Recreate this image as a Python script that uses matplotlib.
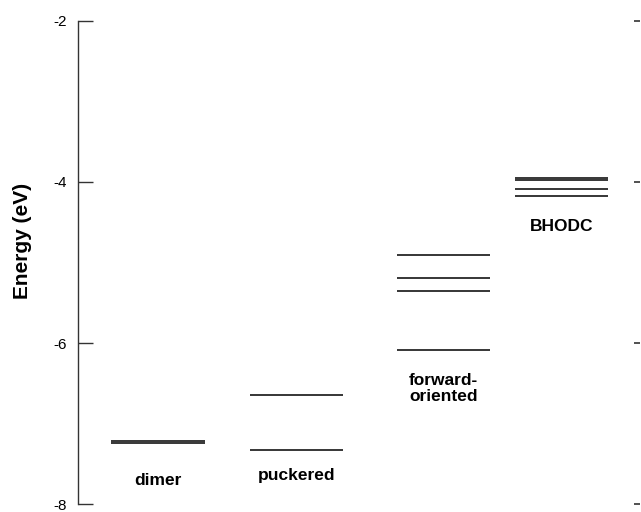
import matplotlib
matplotlib.use("Agg")
import matplotlib.pyplot as plt

plt.rcParams['font.family'] = ['Liberation Sans', 'DejaVu Sans']

# energy levels (eV) for each structure
dimer = [-7.22, -7.24]
puckered = [-6.65, -7.33]
forward = [-4.91, -5.19, -5.36, -6.09]
bhodc = [-3.95, -3.98, -4.09, -4.17]

names = ['dimer', 'puckered', 'forward-\noriented', 'BHODC']
centers = [1.71, 4.67, 7.81, 10.33]
label_y = [-7.71, -7.64, -6.57, -4.55]
yticks = [-8, -6, -4, -2]
halfwidth = 1.0

fig = plt.figure(figsize=(6.41, 5.12), dpi=100)
ax = fig.add_axes([0.1217, 0.0156, 0.8763, 0.9434])

groups = [dimer, puckered, forward, bhodc]
for levels, xc in zip(groups, centers):
    for e in levels:
        ax.hlines(e, xc - halfwidth, xc + halfwidth, color='black', lw=1.1)

for name, xc, yl in zip(names, centers, label_y):
    ax.text(xc, yl, name, ha='center', va='center', fontsize=12.5,
            fontweight='bold', linespacing=1.1)

ax.set_xlim(0, 12)
ax.set_ylim(-8, -2)
ax.set_yticks(yticks)
ax.set_yticklabels([str(t) for t in yticks])
ax.set_xticks([])
ax.set_ylabel('Energy (eV)', fontsize=15, fontweight='bold')
ax.yaxis.set_label_coords(-0.082, 0.545)

for s in ['top', 'right', 'bottom']:
    ax.spines[s].set_visible(False)
ax.spines['left'].set_color('#333333')
ax.spines['left'].set_linewidth(1.0)
ax.tick_params(axis='y', direction='in', length=11, width=1.0, pad=8,
               labelsize=11, color='#333333')

# short tick marks on the right edge, no spine
ax2 = ax.twinx()
ax2.set_ylim(-8, -2)
ax2.set_yticks(yticks)
ax2.set_yticklabels([])
for s in ['top', 'right', 'bottom', 'left']:
    ax2.spines[s].set_visible(False)
ax2.tick_params(axis='y', direction='in', length=4, width=1.2, color='#333333')

plt.savefig('out.png', dpi=100)
